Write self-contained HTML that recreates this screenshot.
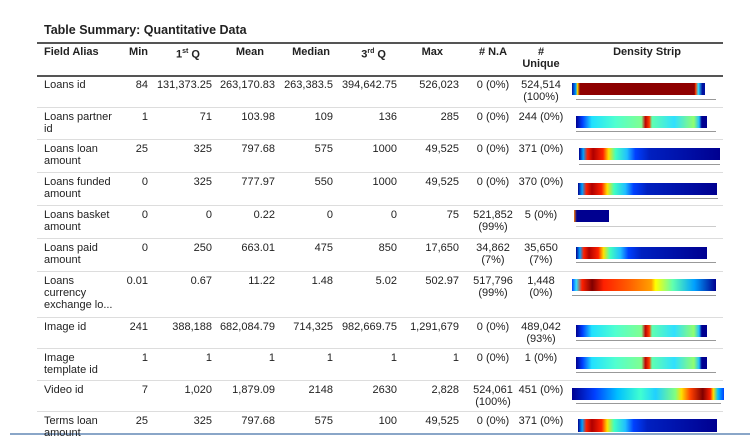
<!DOCTYPE html>
<html><head><meta charset="utf-8"><style>
body{margin:0;width:750px;height:435px;background:#fff;position:relative;overflow:hidden;font-family:"Liberation Sans",sans-serif;color:#222;}
.t{position:absolute;font-size:11px;line-height:12px;white-space:nowrap}
.r{text-align:right}
.c{text-align:center}
.b{font-weight:bold}
.hl{position:absolute;left:37px;width:686px;height:1px;background:#ddd}
.s{position:absolute;height:12px}
.ax{position:absolute;height:1px;background:#999}
.tk{position:absolute;font-size:3px;color:#555}
</style></head><body>
<div class="t b" style="left:44px;top:24px;font-size:12.5px">Table Summary: Quantitative Data</div>
<div style="position:absolute;left:37px;top:42px;width:686px;height:2px;background:#555"></div>
<div style="position:absolute;left:37px;top:75px;width:686px;height:2px;background:#555"></div>
<div class="t b" style="left:44px;top:46px">Field Alias</div>
<div class="t b r" style="left:100px;width:48px;top:46px">Min</div>
<div class="t b r" style="left:160px;width:40px;top:46px">1<sup style="font-size:7px">st</sup> Q</div>
<div class="t b r" style="left:220px;width:44px;top:46px">Mean</div>
<div class="t b r" style="left:280px;width:50px;top:46px">Median</div>
<div class="t b r" style="left:340px;width:46px;top:46px">3<sup style="font-size:7px">rd</sup> Q</div>
<div class="t b r" style="left:410px;width:33px;top:46px">Max</div>
<div class="t b c" style="left:465px;width:56px;top:46px"># N.A</div>
<div class="t b c" style="left:513px;width:56px;top:46px">#<br>Unique</div>
<div class="t b c" style="left:572px;width:150px;top:46px">Density Strip</div>

<div class="hl" style="top:107px"></div><div class="hl" style="top:139px"></div><div class="hl" style="top:172px"></div><div class="hl" style="top:205px"></div><div class="hl" style="top:238px"></div><div class="hl" style="top:271px"></div><div class="hl" style="top:317px"></div><div class="hl" style="top:348px"></div><div class="hl" style="top:380px"></div><div class="hl" style="top:411px"></div>
<div style="position:absolute;left:10px;top:433px;width:740px;height:2px;background:#8aa6c8"></div>

<!-- rows -->
<div class="t" style="left:44px;top:79px">Loans id</div>
<div class="t r" style="left:100px;width:48px;top:79px">84</div>
<div class="t r" style="left:150px;width:62px;top:79px">131,373.25</div>
<div class="t r" style="left:215px;width:60px;top:79px">263,170.83</div>
<div class="t r" style="left:280px;width:53px;top:79px">263,383.5</div>
<div class="t r" style="left:335px;width:62px;top:79px">394,642.75</div>
<div class="t r" style="left:400px;width:59px;top:79px">526,023</div>
<div class="t c" style="left:465px;width:56px;top:79px">0 (0%)</div>
<div class="t c" style="left:513px;width:56px;top:79px">524,514<br>(100%)</div>

<div class="t" style="left:44px;top:111px">Loans partner<br>id</div>
<div class="t r" style="left:100px;width:48px;top:111px">1</div>
<div class="t r" style="left:150px;width:62px;top:111px">71</div>
<div class="t r" style="left:215px;width:60px;top:111px">103.98</div>
<div class="t r" style="left:280px;width:53px;top:111px">109</div>
<div class="t r" style="left:335px;width:62px;top:111px">136</div>
<div class="t r" style="left:400px;width:59px;top:111px">285</div>
<div class="t c" style="left:465px;width:56px;top:111px">0 (0%)</div>
<div class="t c" style="left:513px;width:56px;top:111px">244 (0%)</div>

<div class="t" style="left:44px;top:143px">Loans loan<br>amount</div>
<div class="t r" style="left:100px;width:48px;top:143px">25</div>
<div class="t r" style="left:150px;width:62px;top:143px">325</div>
<div class="t r" style="left:215px;width:60px;top:143px">797.68</div>
<div class="t r" style="left:280px;width:53px;top:143px">575</div>
<div class="t r" style="left:335px;width:62px;top:143px">1000</div>
<div class="t r" style="left:400px;width:59px;top:143px">49,525</div>
<div class="t c" style="left:465px;width:56px;top:143px">0 (0%)</div>
<div class="t c" style="left:513px;width:56px;top:143px">371 (0%)</div>

<div class="t" style="left:44px;top:176px">Loans funded<br>amount</div>
<div class="t r" style="left:100px;width:48px;top:176px">0</div>
<div class="t r" style="left:150px;width:62px;top:176px">325</div>
<div class="t r" style="left:215px;width:60px;top:176px">777.97</div>
<div class="t r" style="left:280px;width:53px;top:176px">550</div>
<div class="t r" style="left:335px;width:62px;top:176px">1000</div>
<div class="t r" style="left:400px;width:59px;top:176px">49,525</div>
<div class="t c" style="left:465px;width:56px;top:176px">0 (0%)</div>
<div class="t c" style="left:513px;width:56px;top:176px">370 (0%)</div>

<div class="t" style="left:44px;top:209px">Loans basket<br>amount</div>
<div class="t r" style="left:100px;width:48px;top:209px">0</div>
<div class="t r" style="left:150px;width:62px;top:209px">0</div>
<div class="t r" style="left:215px;width:60px;top:209px">0.22</div>
<div class="t r" style="left:280px;width:53px;top:209px">0</div>
<div class="t r" style="left:335px;width:62px;top:209px">0</div>
<div class="t r" style="left:400px;width:59px;top:209px">75</div>
<div class="t c" style="left:465px;width:56px;top:209px">521,852<br>(99%)</div>
<div class="t c" style="left:513px;width:56px;top:209px">5 (0%)</div>

<div class="t" style="left:44px;top:242px">Loans paid<br>amount</div>
<div class="t r" style="left:100px;width:48px;top:242px">0</div>
<div class="t r" style="left:150px;width:62px;top:242px">250</div>
<div class="t r" style="left:215px;width:60px;top:242px">663.01</div>
<div class="t r" style="left:280px;width:53px;top:242px">475</div>
<div class="t r" style="left:335px;width:62px;top:242px">850</div>
<div class="t r" style="left:400px;width:59px;top:242px">17,650</div>
<div class="t c" style="left:465px;width:56px;top:242px">34,862<br>(7%)</div>
<div class="t c" style="left:513px;width:56px;top:242px">35,650<br>(7%)</div>

<div class="t" style="left:44px;top:275px">Loans<br>currency<br>exchange lo...</div>
<div class="t r" style="left:100px;width:48px;top:275px">0.01</div>
<div class="t r" style="left:150px;width:62px;top:275px">0.67</div>
<div class="t r" style="left:215px;width:60px;top:275px">11.22</div>
<div class="t r" style="left:280px;width:53px;top:275px">1.48</div>
<div class="t r" style="left:335px;width:62px;top:275px">5.02</div>
<div class="t r" style="left:400px;width:59px;top:275px">502.97</div>
<div class="t c" style="left:465px;width:56px;top:275px">517,796<br>(99%)</div>
<div class="t c" style="left:513px;width:56px;top:275px">1,448<br>(0%)</div>

<div class="t" style="left:44px;top:321px">Image id</div>
<div class="t r" style="left:100px;width:48px;top:321px">241</div>
<div class="t r" style="left:150px;width:62px;top:321px">388,188</div>
<div class="t r" style="left:215px;width:60px;top:321px">682,084.79</div>
<div class="t r" style="left:280px;width:53px;top:321px">714,325</div>
<div class="t r" style="left:335px;width:62px;top:321px">982,669.75</div>
<div class="t r" style="left:400px;width:59px;top:321px">1,291,679</div>
<div class="t c" style="left:465px;width:56px;top:321px">0 (0%)</div>
<div class="t c" style="left:513px;width:56px;top:321px">489,042<br>(93%)</div>

<div class="t" style="left:44px;top:352px">Image<br>template id</div>
<div class="t r" style="left:100px;width:48px;top:352px">1</div>
<div class="t r" style="left:150px;width:62px;top:352px">1</div>
<div class="t r" style="left:215px;width:60px;top:352px">1</div>
<div class="t r" style="left:280px;width:53px;top:352px">1</div>
<div class="t r" style="left:335px;width:62px;top:352px">1</div>
<div class="t r" style="left:400px;width:59px;top:352px">1</div>
<div class="t c" style="left:465px;width:56px;top:352px">0 (0%)</div>
<div class="t c" style="left:513px;width:56px;top:352px">1 (0%)</div>

<div class="t" style="left:44px;top:384px">Video id</div>
<div class="t r" style="left:100px;width:48px;top:384px">7</div>
<div class="t r" style="left:150px;width:62px;top:384px">1,020</div>
<div class="t r" style="left:215px;width:60px;top:384px">1,879.09</div>
<div class="t r" style="left:280px;width:53px;top:384px">2148</div>
<div class="t r" style="left:335px;width:62px;top:384px">2630</div>
<div class="t r" style="left:400px;width:59px;top:384px">2,828</div>
<div class="t c" style="left:465px;width:56px;top:384px">524,061<br>(100%)</div>
<div class="t c" style="left:513px;width:56px;top:384px">451 (0%)</div>

<div class="t" style="left:44px;top:415px">Terms loan<br>amount</div>
<div class="t r" style="left:100px;width:48px;top:415px">25</div>
<div class="t r" style="left:150px;width:62px;top:415px">325</div>
<div class="t r" style="left:215px;width:60px;top:415px">797.68</div>
<div class="t r" style="left:280px;width:53px;top:415px">575</div>
<div class="t r" style="left:335px;width:62px;top:415px">100</div>
<div class="t r" style="left:400px;width:59px;top:415px">49,525</div>
<div class="t c" style="left:465px;width:56px;top:415px">0 (0%)</div>
<div class="t c" style="left:513px;width:56px;top:415px">371 (0%)</div>

<!-- strips -->
<div class="s" style="left:572px;top:83px;width:133px;background:linear-gradient(90deg,#0010a0 0%,#00a0ff 3%,#ffe000 4%,#900000 6%,#8a0000 50%,#900000 92%,#ff4000 93%,#30e0ff 95%,#0010a0 98%)"></div>
<div class="ax" style="left:576px;top:99px;width:140px"></div>
<div class="s" style="left:576px;top:116px;width:131px;background:linear-gradient(90deg,#000090 0%,#0040ff 5%,#20e0ff 12%,#50ffd0 30%,#80ff90 50%,#c00000 53%,#ff4000 56%,#60ffb0 58%,#30e0ff 75%,#90ff70 90%,#20c0ff 94%,#000090 96%)"></div>
<div class="ax" style="left:576px;top:131px;width:140px"></div>
<div class="s" style="left:579px;top:148px;width:141px;background:linear-gradient(90deg,#000090 0%,#00a0ff 3%,#ff2000 6%,#b00000 10%,#ff2000 17%,#ffe000 21%,#40ffc0 26%,#20c0ff 34%,#0040ff 40%,#0020c0 50%,#000090 100%)"></div>
<div class="ax" style="left:579px;top:164px;width:141px"></div>
<div class="s" style="left:578px;top:183px;width:139px;background:linear-gradient(90deg,#000090 0%,#00a0ff 3%,#ff2000 6%,#b00000 10%,#ff2000 17%,#ffe000 21%,#40ffc0 26%,#20c0ff 34%,#0040ff 40%,#0020c0 50%,#000090 100%)"></div>
<div class="ax" style="left:578px;top:198px;width:140px"></div>
<div class="s" style="left:574px;top:210px;width:35px;background:linear-gradient(90deg,#ff8000 0%,#000090 8%,#000090 100%)"></div>
<div class="ax" style="left:576px;top:226px;width:140px;background:#ccc"></div>
<div class="s" style="left:576px;top:247px;width:131px;background:linear-gradient(90deg,#000090 0%,#00a0ff 3%,#ff2000 6%,#b00000 10%,#ff2000 17%,#ffe000 21%,#40ffc0 26%,#20c0ff 34%,#0040ff 40%,#0020c0 50%,#000090 100%)"></div>
<div class="ax" style="left:576px;top:262px;width:140px"></div>
<div class="s" style="left:572px;top:279px;width:144px;background:linear-gradient(90deg,#0040ff 0%,#30e0ff 3%,#ff2000 7%,#800000 14%,#ff2000 22%,#ff6000 40%,#ffa000 55%,#ffff00 58%,#60ffb0 70%,#00a0ff 85%,#000090 100%)"></div>
<div class="ax" style="left:572px;top:295px;width:144px"></div>
<div class="s" style="left:576px;top:325px;width:131px;background:linear-gradient(90deg,#000090 0%,#0040ff 5%,#20e0ff 12%,#50ffd0 30%,#80ff90 50%,#c00000 53%,#ff4000 56%,#60ffb0 58%,#30e0ff 75%,#90ff70 90%,#20c0ff 94%,#000090 96%)"></div>
<div class="ax" style="left:576px;top:340px;width:140px"></div>
<div class="s" style="left:576px;top:357px;width:131px;background:linear-gradient(90deg,#000090 0%,#0040ff 5%,#20e0ff 12%,#50ffd0 30%,#80ff90 50%,#c00000 53%,#ff4000 56%,#60ffb0 58%,#30e0ff 75%,#90ff70 90%,#20c0ff 94%,#000090 96%)"></div>
<div class="ax" style="left:576px;top:372px;width:140px"></div>
<div class="s" style="left:572px;top:388px;width:152px;background:linear-gradient(90deg,#000090 0%,#0040ff 15%,#00c0ff 30%,#40ffd0 45%,#20d0ff 55%,#80ff80 68%,#ffe000 72%,#ff4000 78%,#800000 86%,#ff2000 91%,#ffe000 93%,#00c0ff 96%,#0040ff 100%)"></div>
<div class="ax" style="left:576px;top:403px;width:145px"></div>
<div class="s" style="left:578px;top:419px;width:139px;height:13px;background:linear-gradient(90deg,#000090 0%,#00a0ff 3%,#ff2000 6%,#b00000 10%,#ff2000 17%,#ffe000 21%,#40ffc0 26%,#20c0ff 34%,#0040ff 40%,#0020c0 50%,#000090 100%)"></div>
</body></html>
